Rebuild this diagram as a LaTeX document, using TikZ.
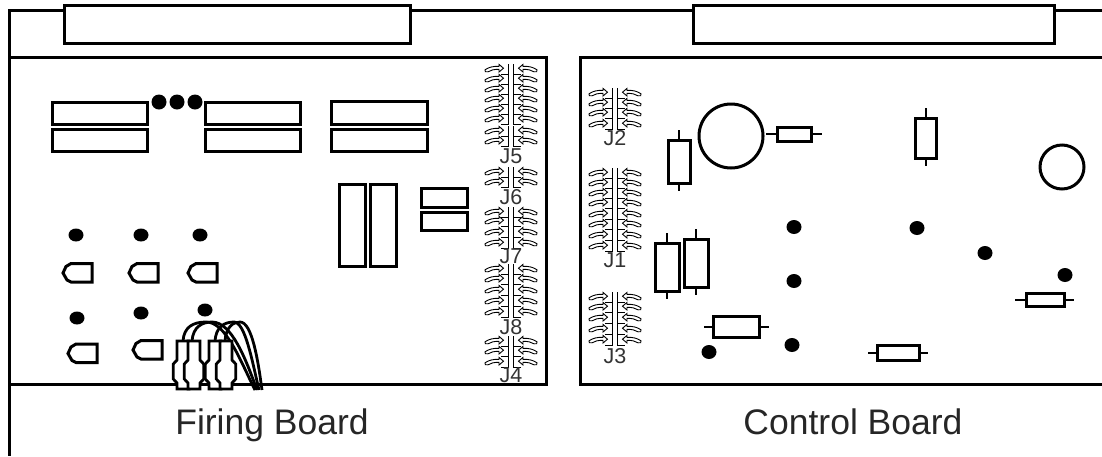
\documentclass[tikz,border=0pt]{standalone}
\usepackage{fontspec}
\setmainfont{Liberation Sans}
\tikzset{
 part/.style={draw=black,line width=3pt,fill=white},
 heavy/.style={draw=black,line width=3pt},
 board/.style={draw=black,line width=3pt},
 lead/.style={draw=black,line width=2.6pt},
 hole/.style={fill=black,draw=none},
 wire/.style={draw=black,line width=2.8pt},
 jlabel/.style={font=\fontsize{21.5}{21.5}\selectfont,text=black!80,inner sep=0pt},
 title/.style={font=\fontsize{35.5}{35.5}\selectfont,text=black!85,inner sep=0pt,anchor=base},
 pinrow/.pic={
  \foreach \s in {-1,1}{
   \begin{scope}[xscale=\s]
   \draw[line width=.8pt] (-2.2,-5) -- (-2.2,5) -- (-10,5);
   \draw[line width=.9pt,fill=white] (-26,.8) .. controls (-22,-2) and (-17,-3) .. (-12,-2.6)
     -- (-12,-4.6) -- (-7.5,-.8) -- (-12,3) -- (-12,.4)
     .. controls (-17,.2) and (-20,1) .. (-23,2.8) .. controls (-25,3.6) and (-27,2.4) .. (-26,.8) -- cycle;
   \end{scope}}
 },
 plug/.pic={
  \draw[line width=2.8pt,fill=white] (-6,0) -- (-6,19) -- (-9.7,23) -- (-9.7,38) -- (-6,42) -- (-6,48)
    -- (6,48) -- (6,42) -- (9.7,38) -- (9.7,23) -- (6,19) -- (6,0) -- cycle;
 },
 dshape/.pic={
  \draw[line width=3pt] (8,0) -- (29,0) -- (29,18.5) -- (8,18.5) -- (4,16.5) -- (0,9.5) -- (3,3) -- cycle;
 }
}
\begin{document}
\begin{tikzpicture}[x=1pt,y=-1pt]
\useasboundingbox (0,0) rectangle (1102,456);
% frame
\coordinate (frameA) at (1102,10);
\coordinate (frameB) at (9,10);
\coordinate (frameC) at (9,456);
\draw[board] (frameA) -- (frameB) -- (frameC);
\node[part,heavy,fill=white,inner sep=0pt,anchor=north west,minimum height=38pt,text width=346pt] (socketA) at (63,4) {};
\node[part,heavy,fill=white,inner sep=0pt,anchor=north west,minimum height=38pt,text width=361pt] (socketB) at (692,4) {};
% boards
\draw[board] (9,57) rectangle (546,384);
\draw[board] (1102,57) -- (580,57) -- (580,384) -- (1102,384);
% Firing ICs
\foreach \x/\y/\w/\h in {52/102/95/22,52/129/95/22,205/102/95/22,205/129/95/22,331/101/96/23,331/129/96/22,339/184/26/82,370/184/26/82,421/188/46/19,421/212/46/18}
  \draw[part] (\x,\y) rectangle ++(\w,\h);
\foreach \x in {159,177,195} \fill (\x,102) circle[radius=7.5];
\foreach \x/\y in {76/235,141/235,200/235,77/318,141/313,205/310}
  \fill[hole] (\x,\y) ellipse[x radius=7.5,y radius=6.5];
\foreach \x/\y in {63/263.5,129/263.5,188/263.5,68/344,133/340.5}
  \pic at (\x,\y) {dshape};
% wires
\draw[wire] (183,341) .. controls (184,327) and (193,322) .. (206,322) .. controls (226,322) and (240,360) .. (255,390);
\draw[wire] (192,341) .. controls (193,327) and (202,322) .. (212,322) .. controls (232,322) and (246,360) .. (257,390);
\draw[wire] (215,341) .. controls (216,327) and (224,322) .. (234,322) .. controls (245,322) and (252,360) .. (259,390);
\draw[wire] (225,341) .. controls (226,327) and (233,322) .. (240,322) .. controls (252,322) and (258,360) .. (262,390);
% plugs
\pic at (183,341) {plug};
\pic at (194,341) {plug};
\pic at (215,341) {plug};
\pic at (226,341) {plug};
% connectors
\foreach \x/\y in {511/69,511/79,511/89,511/99,511/109,511/119,511/131,511/141,
 511/172,511/182, 511/212,511/221,511/232,511/243, 511/269,511/279,511/290,511/301,511/312,
 511/341,511/351,511/362,
 615/93,615/103,615/113,615/124,
 615/173,615/183,615/193,615/203,615/214,615/224,615/235,615/246,
 615/297,615/307,615/318,615/329,615/340}
 \pic at (\x,\y) {pinrow};
\node[jlabel] (j5) at (511,156) {J5};
\node[jlabel] (j6) at (511,197) {J6};
\node[jlabel] (j7) at (511,256) {J7};
\node[jlabel] (j8) at (511,327) {J8};
\node[jlabel] (j4) at (511,375) {J4};
\node[jlabel] (j2) at (615,138) {J2};
\node[jlabel] (j1) at (615,260) {J1};
\node[jlabel] (j3) at (615,356) {J3};
% control
\draw[part] (731,136) circle[radius=32];
\draw[part] (1062,167) circle[radius=22];
\foreach \cx/\t/\b/\w in {679/140/183/22, 926/118/158/21, 667/243/291/24, 696/239/287/24}{
  \draw[lead] (\cx,\t-10) -- (\cx,\b+8);
  \draw[part] (\cx-\w/2,\t) rectangle (\cx+\w/2,\b);
}
\foreach \cy/\l/\r/\h/\a/\b in {134/777/811/14/766/822, 327/713/759/21/704/769, 353/877/919/15/868/928, 300/1026/1064/13/1015/1074}{
  \draw[lead] (\a,\cy) -- (\b,\cy);
  \draw[part] (\l,\cy-\h/2) rectangle (\r,\cy+\h/2);
}
\foreach \x/\y in {794/227,917/228,985/253,1065/275,794/281,792/345,709/352}
  \fill[hole] (\x,\y) ellipse[x radius=7.5,y radius=7];
\node[title] (fb) at (272,434) {Firing Board};
\node[title] (cb) at (853,434) {Control Board};
\end{tikzpicture}
\end{document}
